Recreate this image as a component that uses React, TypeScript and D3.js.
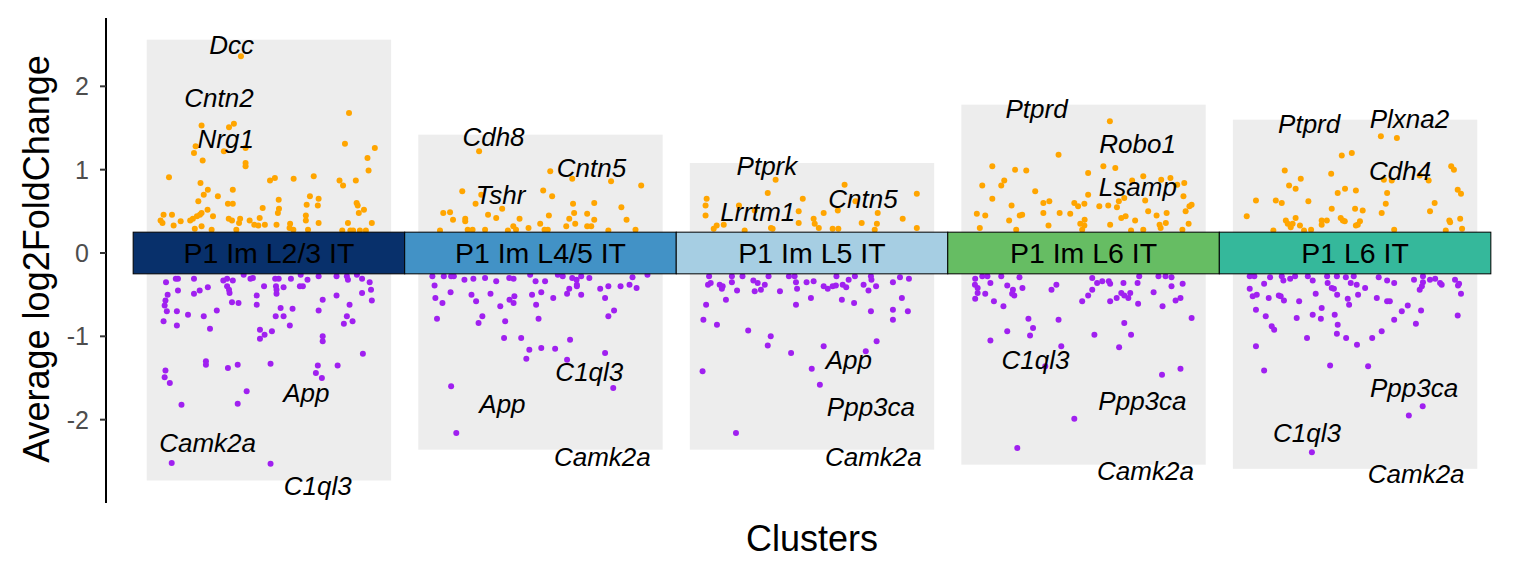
import React from "react";
import * as d3 from "d3";

// ---------- data ----------
const clusters = ["P1 Im L2/3 IT", "P1 Im L4/5 IT", "P1 Im L5 IT", "P1 Im L6 IT", "P1 L6 IT"];
const tileColors = ["#08306B", "#4292C6", "#A6CEE3", "#66BD63", "#35B89B"];
const yTicks = [-2, -1, 0, 1, 2];

// [jitter offset within cluster, avg log2FC]
const up1: [number, number][] = [[-0.103,2.36],[0.295,1.68],[-0.248,1.53],[-0.147,1.51],[-0.129,1.55],[-0.27,1.28],[0.28,1.31],[0.39,1.26],[-0.086,1.26],[-0.276,1.20],[-0.166,1.22],[-0.244,1.11],[-0.086,1.08],[-0.086,1.04],[0.363,1.14],[0.367,0.99],[-0.368,0.91],[-0.252,0.84],[0.004,0.87],[0.022,0.90],[0.091,0.89],[0.165,0.92],[0.26,0.87],[0.273,0.81],[0.32,0.87],[-0.225,0.76],[-0.24,0.70],[-0.133,0.76],[-0.188,0.68],[-0.26,0.62],[-0.151,0.59],[-0.133,0.59],[0.036,0.64],[0.151,0.68],[0.183,0.65],[0.139,0.58],[0.18,0.57],[0.323,0.60],[0.327,0.57],[-0.023,0.54],[-0.226,0.52],[0.037,0.53],[0.033,0.48],[0.331,0.48],[0.35,0.52],[-0.388,0.46],[-0.357,0.46],[-0.248,0.48],[-0.254,0.46],[-0.265,0.44],[-0.28,0.41],[-0.29,0.39],[-0.206,0.44],[-0.399,0.39],[-0.392,0.36],[-0.351,0.33],[-0.325,0.38],[-0.148,0.41],[-0.136,0.39],[-0.11,0.36],[-0.106,0.41],[-0.071,0.39],[-0.054,0.34],[-0.039,0.33],[-0.034,0.42],[-0.015,0.34],[0.028,0.34],[0.078,0.35],[0.076,0.30],[0.136,0.45],[0.136,0.39],[0.183,0.36],[0.144,0.28],[0.291,0.36],[0.379,0.36],[-0.273,0.29],[-0.248,0.32],[-0.211,0.28],[-0.12,0.28],[0.09,0.28],[0.27,0.27],[0.30,0.27],[0.31,0.27],[0.335,0.27],[0.357,0.27]];
const down1: [number, number][] = [[-0.379,-0.35],[-0.343,-0.31],[-0.335,-0.31],[-0.276,-0.31],[-0.168,-0.33],[-0.154,-0.31],[-0.133,-0.33],[-0.154,-0.40],[-0.147,-0.44],[-0.145,-0.48],[-0.093,-0.26],[-0.068,-0.31],[-0.059,-0.30],[0.023,-0.31],[0.036,-0.31],[0.081,-0.31],[0.117,-0.26],[0.142,-0.32],[0.183,-0.28],[0.249,-0.28],[0.287,-0.28],[0.291,-0.32],[0.324,-0.26],[0.343,-0.31],[0.371,-0.35],[-0.018,-0.40],[0.026,-0.40],[0.028,-0.44],[0.028,-0.49],[0.054,-0.41],[0.114,-0.40],[0.125,-0.40],[-0.225,-0.41],[-0.255,-0.45],[-0.276,-0.49],[-0.335,-0.45],[-0.373,-0.50],[-0.381,-0.57],[-0.384,-0.63],[-0.376,-0.70],[-0.339,-0.70],[-0.388,-0.82],[-0.339,-0.87],[-0.298,-0.74],[-0.24,-0.76],[-0.192,-0.69],[-0.217,-0.91],[-0.136,-0.59],[-0.112,-0.60],[-0.045,-0.51],[-0.045,-0.62],[0.043,-0.66],[0.025,-0.76],[0.054,-0.76],[0.087,-0.67],[0.077,-0.87],[-0.033,-0.92],[-0.016,-0.98],[-0.033,-1.03],[0.011,-0.94],[0.198,-0.56],[0.183,-0.69],[0.249,-0.51],[0.297,-0.62],[0.287,-0.76],[0.276,-0.85],[0.308,-0.82],[0.343,-0.48],[0.376,-0.44],[0.379,-0.57],[0.198,-1.00],[0.198,-1.06],[0.346,-1.21],[-0.232,-1.30],[-0.232,-1.34],[-0.151,-1.38],[-0.115,-1.34],[0.006,-1.33],[0.18,-1.35],[0.173,-1.44],[0.195,-1.50],[0.253,-1.35],[-0.381,-1.41],[-0.384,-1.49],[-0.365,-1.56],[-0.082,-1.66],[-0.322,-1.82],[-0.115,-1.81],[-0.358,-2.52],[0.006,-2.53]];

const up2: [number, number][] = [[-0.226,1.22],[0.036,0.98],[0.117,0.89],[0.26,0.86],[0.371,0.81],[-0.288,0.74],[-0.218,0.70],[0.01,0.75],[0.043,0.68],[-0.239,0.59],[-0.141,0.53],[-0.193,0.46],[-0.163,0.42],[-0.358,0.48],[-0.333,0.49],[-0.322,0.40],[-0.277,0.41],[-0.277,0.38],[-0.077,0.41],[0.031,0.45],[0.12,0.59],[0.124,0.48],[0.106,0.41],[0.128,0.35],[0.198,0.60],[0.172,0.47],[0.198,0.40],[0.298,0.55],[0.317,0.40],[-0.001,0.35],[0.095,0.32],[-0.044,0.30],[-0.1,0.32],[-0.09,0.28],[0.172,0.32],[0.187,0.32],[-0.268,0.28],[-0.25,0.28],[-0.204,0.28],[0.015,0.28],[0.027,0.28],[-0.37,0.27],[0.25,0.27],[0.35,0.28],[-0.12,0.27]];
const down2: [number, number][] = [[-0.398,-0.28],[-0.356,-0.28],[-0.329,-0.28],[-0.319,-0.28],[-0.28,-0.32],[-0.247,-0.31],[-0.204,-0.30],[-0.163,-0.34],[-0.115,-0.30],[-0.099,-0.31],[-0.038,-0.26],[-0.018,-0.34],[0.017,-0.34],[0.064,-0.26],[0.082,-0.28],[0.117,-0.30],[0.133,-0.32],[0.15,-0.28],[0.18,-0.30],[0.134,-0.38],[0.134,-0.40],[0.106,-0.43],[0.25,-0.40],[0.295,-0.40],[0.328,-0.38],[0.354,-0.42],[0.339,-0.29],[0.394,-0.26],[0.22,-0.43],[-0.39,-0.39],[-0.331,-0.47],[-0.254,-0.50],[-0.184,-0.49],[-0.387,-0.54],[-0.361,-0.60],[-0.237,-0.58],[-0.148,-0.64],[-0.114,-0.56],[-0.096,-0.52],[-0.099,-0.60],[-0.031,-0.50],[0.003,-0.47],[-0.016,-0.62],[0.047,-0.54],[0.098,-0.49],[0.15,-0.50],[0.238,-0.54],[-0.381,-0.79],[-0.214,-0.76],[-0.228,-0.84],[-0.13,-0.82],[-0.007,-0.79],[0.271,-0.69],[0.25,-0.76],[-0.134,-1.02],[-0.071,-1.02],[0.109,-1.04],[-0.041,-1.16],[0.003,-1.14],[0.054,-1.15],[-0.052,-1.27],[0.098,-1.28],[0.238,-1.20],[-0.329,-1.60],[0.268,-1.62],[-0.31,-2.16]];

const up3: [number, number][] = [[-0.134,0.88],[-0.163,0.72],[0.12,0.82],[0.386,0.71],[-0.388,0.65],[-0.392,0.57],[-0.392,0.45],[-0.034,0.65],[-0.211,0.51],[-0.269,0.57],[-0.049,0.50],[0.043,0.48],[0.095,0.51],[0.16,0.62],[0.242,0.48],[0.334,0.41],[-0.325,0.34],[-0.351,0.33],[-0.362,0.29],[-0.049,0.36],[0.006,0.41],[0.01,0.35],[0.025,0.30],[0.183,0.36],[0.239,0.35],[0.231,0.28],[0.386,0.30],[-0.151,0.30],[-0.145,0.29],[-0.248,0.27],[0.076,0.29],[0.097,0.29]];
const down3: [number, number][] = [[-0.379,-0.28],[-0.295,-0.28],[-0.256,-0.28],[-0.16,-0.28],[-0.085,-0.28],[-0.064,-0.28],[0.09,-0.28],[0.158,-0.28],[0.217,-0.28],[-0.383,-0.38],[-0.373,-0.36],[-0.34,-0.38],[-0.329,-0.40],[-0.332,-0.43],[-0.295,-0.35],[-0.276,-0.45],[-0.216,-0.33],[-0.2,-0.36],[-0.211,-0.46],[-0.188,-0.44],[-0.174,-0.38],[-0.118,-0.46],[-0.059,-0.35],[-0.055,-0.43],[-0.02,-0.35],[0.006,-0.34],[0.043,-0.40],[0.058,-0.43],[0.076,-0.40],[0.088,-0.39],[0.113,-0.38],[0.126,-0.41],[0.135,-0.32],[0.19,-0.38],[0.208,-0.45],[0.219,-0.32],[0.236,-0.40],[0.298,-0.35],[0.324,-0.29],[0.357,-0.31],[-0.39,-0.62],[-0.317,-0.56],[-0.40,-0.80],[-0.35,-0.86],[-0.059,-0.62],[-0.004,-0.54],[0.11,-0.56],[0.155,-0.60],[0.217,-0.70],[0.298,-0.68],[0.298,-0.80],[0.331,-0.54],[0.353,-0.70],[-0.235,-0.93],[-0.152,-1.00],[-0.163,-1.11],[-0.077,-1.20],[0.043,-1.12],[0.198,-1.18],[0.238,-1.06],[-0.403,-1.42],[-0.001,-1.39],[0.029,-1.58],[-0.28,-2.16]];

const up4: [number, number][] = [[0.097,1.58],[-0.092,1.18],[-0.336,1.04],[-0.252,1.00],[-0.211,0.99],[0.073,1.04],[0.117,1.02],[0.017,0.96],[-0.292,0.87],[-0.303,0.81],[-0.373,0.81],[-0.178,0.74],[-0.336,0.65],[0.017,0.70],[0.179,0.87],[0.22,0.92],[0.286,0.88],[0.32,0.90],[0.371,0.84],[0.345,0.82],[0.15,0.66],[0.13,0.62],[0.227,0.63],[0.368,0.68],[-0.148,0.60],[-0.126,0.62],[-0.265,0.57],[-0.034,0.60],[0.003,0.59],[-0.02,0.56],[0.058,0.56],[0.091,0.57],[-0.393,0.47],[-0.362,0.45],[-0.226,0.46],[-0.235,0.45],[-0.148,0.48],[-0.088,0.48],[-0.049,0.47],[0.123,0.55],[0.155,0.44],[0.139,0.42],[0.238,0.50],[0.269,0.45],[0.306,0.48],[0.376,0.50],[0.39,0.56],[0.398,0.58],[-0.382,0.30],[-0.274,0.39],[-0.248,0.28],[-0.129,0.33],[-0.012,0.35],[0.004,0.40],[-0.005,0.28],[0.003,0.33],[0.098,0.34],[0.19,0.39],[0.22,0.28],[0.28,0.34],[0.284,0.30],[0.303,0.36],[0.364,0.28],[0.387,0.35],[0.175,0.27]];
const down4: [number, number][] = [[-0.399,-0.31],[-0.373,-0.28],[-0.354,-0.28],[-0.303,-0.28],[-0.236,-0.29],[-0.4,-0.38],[-0.39,-0.42],[-0.39,-0.48],[-0.399,-0.55],[-0.362,-0.49],[-0.343,-0.36],[-0.33,-0.58],[-0.295,-0.64],[-0.281,-0.39],[-0.26,-0.44],[-0.255,-0.51],[-0.263,-0.49],[-0.225,-0.42],[-0.118,-0.44],[-0.1,-0.38],[0.032,-0.30],[0.05,-0.36],[0.069,-0.34],[0.093,-0.34],[0.098,-0.37],[0.147,-0.36],[0.032,-0.44],[0.017,-0.51],[-0.005,-0.58],[0.098,-0.58],[0.122,-0.54],[0.139,-0.48],[0.15,-0.51],[0.165,-0.54],[0.172,-0.48],[0.199,-0.36],[0.205,-0.28],[0.201,-0.61],[0.258,-0.47],[0.291,-0.64],[0.276,-0.28],[0.302,-0.28],[0.324,-0.29],[0.324,-0.40],[0.365,-0.37],[0.357,-0.54],[0.339,-0.57],[-0.203,-0.79],[-0.186,-0.90],[-0.197,-0.99],[-0.092,-0.80],[-0.281,-0.94],[-0.343,-1.05],[-0.082,-1.12],[0.04,-0.98],[0.15,-0.84],[0.175,-0.98],[0.131,-1.13],[0.398,-0.78],[-0.141,-1.36],[0.289,-1.46],[0.357,-1.39],[-0.034,-1.99],[-0.244,-2.34]];

const up5: [number, number][] = [[0.095,1.40],[0.154,1.38],[-0.049,1.17],[-0.012,1.20],[-0.259,0.99],[-0.2,0.89],[-0.088,0.95],[0.354,1.04],[0.364,1.00],[0.106,0.88],[0.135,0.87],[0.238,0.93],[0.271,0.87],[-0.243,0.81],[-0.219,0.77],[-0.037,0.77],[-0.064,0.72],[0.003,0.75],[0.118,0.72],[0.378,0.76],[0.39,0.71],[-0.365,0.63],[-0.292,0.63],[-0.27,0.60],[-0.172,0.62],[0.113,0.59],[0.293,0.60],[-0.086,0.53],[0,0.53],[0.028,0.51],[0.098,0.48],[0.276,0.50],[-0.399,0.44],[-0.219,0.42],[-0.255,0.39],[-0.248,0.35],[-0.23,0.35],[-0.237,0.31],[-0.203,0.33],[-0.188,0.27],[-0.162,0.28],[-0.123,0.39],[-0.104,0.39],[-0.123,0.34],[-0.053,0.42],[-0.045,0.39],[-0.038,0.38],[0.018,0.38],[0.01,0.34],[0.003,0.33],[0.347,0.39],[0.35,0.37],[0.387,0.41],[0.394,0.29],[-0.301,0.27],[0.144,0.28],[0.334,0.27]];
const down5: [number, number][] = [[-0.388,-0.28],[-0.371,-0.28],[-0.313,-0.29],[-0.27,-0.28],[-0.264,-0.33],[-0.239,-0.31],[-0.221,-0.28],[-0.174,-0.28],[-0.156,-0.33],[-0.103,-0.28],[-0.067,-0.28],[-0.034,-0.29],[-0.005,-0.28],[-0.016,-0.36],[0.006,-0.38],[-0.101,-0.36],[-0.086,-0.42],[-0.078,-0.43],[0.037,-0.42],[0.087,-0.29],[0.118,-0.33],[0.144,-0.36],[0.217,-0.32],[0.25,-0.28],[0.25,-0.35],[0.276,-0.32],[0.295,-0.31],[0.313,-0.36],[0.319,-0.38],[0.368,-0.32],[0.383,-0.37],[0.379,-0.39],[0.39,-0.49],[0.238,-0.44],[0.246,-0.40],[-0.388,-0.43],[-0.335,-0.37],[-0.377,-0.52],[-0.362,-0.50],[-0.318,-0.54],[-0.281,-0.51],[-0.274,-0.52],[-0.262,-0.57],[-0.206,-0.58],[-0.145,-0.49],[-0.066,-0.50],[-0.027,-0.55],[-0.022,-0.62],[0.011,-0.50],[0.08,-0.54],[0.118,-0.58],[0.128,-0.58],[-0.365,-0.68],[-0.329,-0.76],[-0.215,-0.78],[-0.156,-0.74],[-0.123,-0.66],[-0.126,-0.79],[-0.075,-0.74],[-0.064,-0.86],[-0.067,-0.97],[-0.307,-0.88],[-0.298,-0.92],[-0.177,-1.02],[-0.033,-1.02],[0.007,-1.10],[0.063,-1.02],[0.098,-0.94],[0.144,-0.80],[0.172,-0.70],[0.194,-0.63],[0.224,-0.85],[0.243,-0.69],[0.378,-0.75],[-0.365,-1.12],[-0.335,-1.41],[-0.092,-1.35],[0.048,-1.36],[0.198,-1.95],[0.249,-1.84],[-0.159,-2.39]];

// gene labels: [gene, offset within cluster, log2FC position]
const labels1: [string, number, number][] = [["Dcc",-0.137,2.50],["Cntn2",-0.184,1.86],["Nrg1",-0.159,1.37],["App",0.138,-1.68],["Camk2a",-0.226,-2.28],["C1ql3",0.18,-2.80]];
const labels2: [string, number, number][] = [["Cdh8",-0.173,1.39],["Tshr",-0.147,0.70],["Cntn5",0.188,1.02],["C1ql3",0.18,-1.43],["App",-0.14,-1.81],["Camk2a",0.228,-2.45]];
const labels3: [string, number, number][] = [["Ptprk",-0.166,1.04],["Lrrtm1",-0.2,0.49],["Cntn5",0.188,0.65],["App",0.136,-1.28],["Ppp3ca",0.217,-1.85],["Camk2a",0.226,-2.45]];
const labels4: [string, number, number][] = [["Ptprd",-0.173,1.73],["Robo1",0.199,1.31],["Lsamp",0.2,0.79],["C1ql3",-0.177,-1.28],["Ppp3ca",0.217,-1.78],["Camk2a",0.228,-2.61]];
const labels5: [string, number, number][] = [["Ptprd",-0.169,1.55],["Plxna2",0.2,1.61],["Cdh4",0.166,0.98],["Ppp3ca",0.217,-1.62],["C1ql3",-0.177,-2.16],["Camk2a",0.225,-2.65]];

const upSets = [up1, up2, up3, up4, up5];
const downSets = [down1, down2, down3, down4, down5];
const labelSets = [labels1, labels2, labels3, labels4, labels5];

const FONT = "'Liberation Sans', Arial, Helvetica, sans-serif";

export default function App() {
  const W = 1536, H = 576;
  const x = d3.scaleLinear().domain([0.4, 5.6]).range([106, 1518]);
  const y = d3.scaleLinear().domain([-3.0, 2.82]).range([503, 18]);

  return (
    <svg width={W} height={H} style={{ position: "absolute", left: 0, top: 0, background: "#fff" }} fontFamily={FONT}>
      {/* background columns */}
      {clusters.map((c, i) => {
        const all = [...upSets[i], ...downSets[i]].map((d) => d[1]);
        const hi = (d3.max(all) as number) + 0.2;
        const lo = (d3.min(all) as number) - 0.2;
        return (
          <rect key={"bg" + i} x={x(i + 1 - 0.45)} y={y(hi)} width={x(i + 1 + 0.45) - x(i + 1 - 0.45)} height={y(lo) - y(hi)} fill="#EDEDED" />
        );
      })}
      {/* points */}
      {clusters.map((c, i) => (
        <g key={"pts" + i}>
          {upSets[i].map((d, j) => (
            <circle key={"u" + j} cx={x(i + 1 + d[0])} cy={y(d[1])} r={3} fill="#FFA500" />
          ))}
          {downSets[i].map((d, j) => (
            <circle key={"d" + j} cx={x(i + 1 + d[0])} cy={y(d[1])} r={3} fill="#A020F0" />
          ))}
        </g>
      ))}
      {/* cluster tiles */}
      {clusters.map((c, i) => (
        <g key={"tile" + i}>
          <rect x={x(i + 0.5)} y={y(0.25)} width={x(i + 1.5) - x(i + 0.5)} height={y(-0.25) - y(0.25)} fill={tileColors[i]} stroke="#000" strokeWidth={1} />
          <text x={x(i + 1)} y={y(0)} textAnchor="middle" dominantBaseline="central" fontSize={28.5} fill="#000">{c}</text>
        </g>
      ))}
      {/* gene labels */}
      {labelSets.map((ls, i) => ls.map((l, j) => (
        <text key={"lab" + i + "-" + j} x={x(i + 1 + l[1])} y={y(l[2])} textAnchor="middle" dominantBaseline="central" fontSize={26} fontStyle="italic" fill="#000">{l[0]}</text>
      )))}
      {/* y axis */}
      <line x1={106} x2={106} y1={y(2.82)} y2={y(-3.0)} stroke="#000" strokeWidth={2} />
      {yTicks.map((t) => (
        <g key={"t" + t}>
          <line x1={100} x2={106} y1={y(t)} y2={y(t)} stroke="#333" strokeWidth={2} />
          <text x={89} y={y(t)} textAnchor="end" dominantBaseline="central" fontSize={25} fill="#4D4D4D">{t}</text>
        </g>
      ))}
      <text transform={`translate(36,259) rotate(-90)`} textAnchor="middle" dominantBaseline="central" fontSize={36} fill="#000">Average log2FoldChange</text>
      <text x={x(3)} y={538} textAnchor="middle" dominantBaseline="central" fontSize={36} fill="#000">Clusters</text>
    </svg>
  );
}
